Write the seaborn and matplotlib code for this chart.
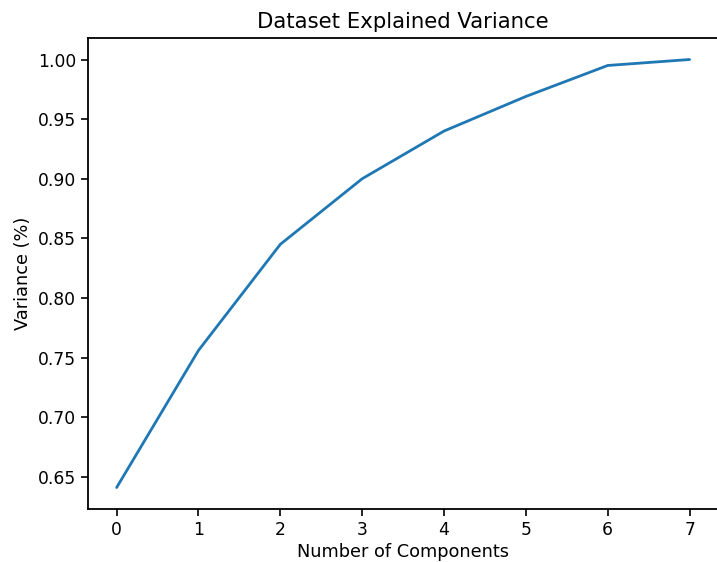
import matplotlib
matplotlib.use("Agg")
import matplotlib.pyplot as plt
import seaborn as sns
import pandas as pd

components = [0, 1, 2, 3, 4, 5, 6, 7]
variance = [0.641, 0.756, 0.845, 0.900, 0.940, 0.969, 0.995, 1.000]
yticks = [0.65, 0.70, 0.75, 0.80, 0.85, 0.90, 0.95, 1.00]

sns.set_style("ticks")
plt.rcParams['font.family'] = ['DejaVu Sans']
plt.rcParams['text.color'] = 'black'
plt.rcParams['axes.labelcolor'] = 'black'

df = pd.DataFrame({"Number of Components": components, "Variance (%)": variance})

fig = plt.figure(figsize=(7.17, 5.62), dpi=100)
ax = fig.add_axes([0.1227, 0.0943, 0.879, 0.838])
sns.lineplot(data=df, x="Number of Components", y="Variance (%)", ax=ax,
             color="#1f77b4", linewidth=2)
ax.set_xlim(-0.35, 7.35)
ax.set_ylim(0.623, 1.018)
ax.set_yticks(yticks)
ax.set_yticklabels([f"{v:.2f}" for v in yticks])
ax.set_xticks(components)
ax.tick_params(labelsize=12.3, colors="black", length=5, width=1.2)
for s in ax.spines.values():
    s.set_color("black")
    s.set_linewidth(1.3)
ax.set_xlabel("Number of Components", fontsize=12.8, color="black", labelpad=3)
ax.set_ylabel("Variance (%)", fontsize=12.8, color="black", labelpad=4)
ax.set_title("Dataset Explained Variance", fontsize=15.3, color="black", pad=7)
fig.savefig("out.png", dpi=100)
